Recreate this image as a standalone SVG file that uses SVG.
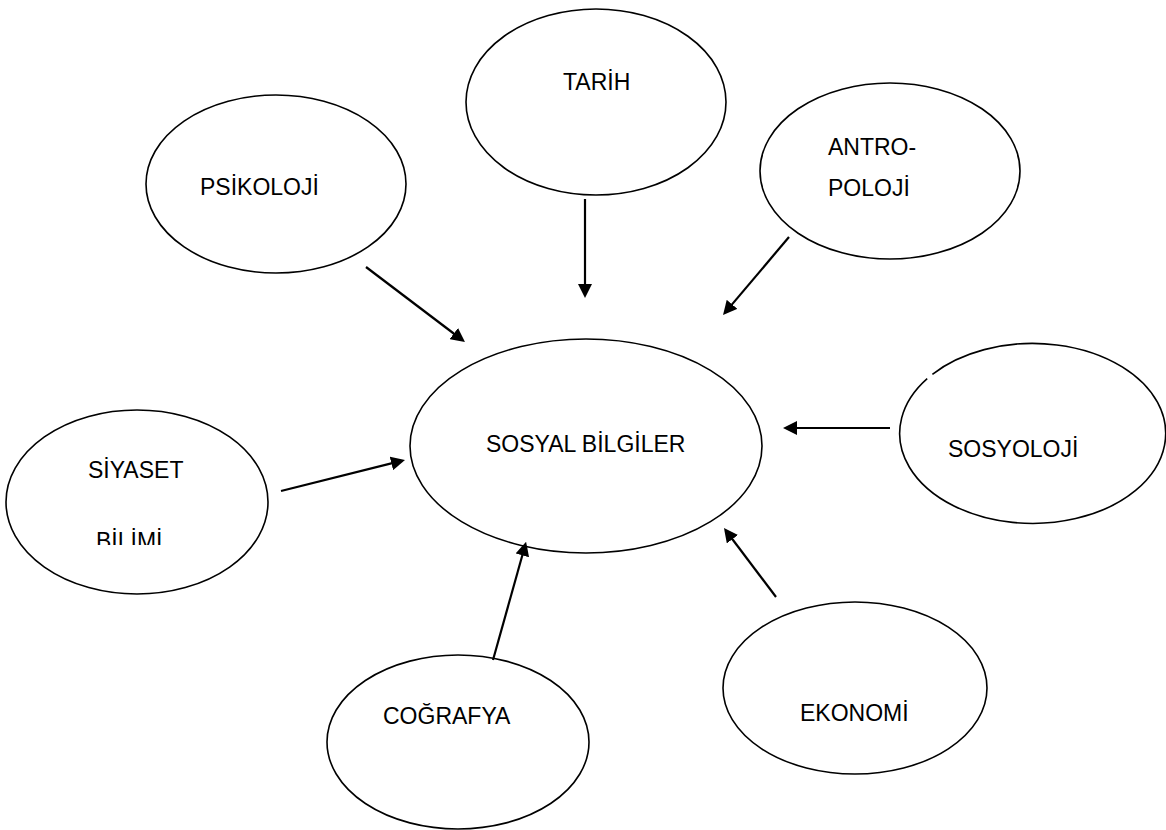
<svg xmlns="http://www.w3.org/2000/svg" width="1166" height="830" viewBox="0 0 1166 830">
<style>
.node{fill:#fff;stroke:#000;stroke-width:1.6}
.lbl{font-family:"Liberation Sans",Arial,sans-serif;font-size:23px;fill:#000}
.edge{stroke:#000;stroke-width:2.2;fill:none;marker-end:url(#ah)}
</style>
<defs>
<marker id="ah" markerUnits="userSpaceOnUse" markerWidth="14" markerHeight="14" refX="4" refY="7" orient="auto">
<path d="M0,0 L14,7 L0,14 z" fill="#000"/>
</marker>
<clipPath id="clipBilimi"><rect x="0" y="500" width="280" height="45"/></clipPath>
</defs>
<rect width="1166" height="830" fill="#fff"/>
<g id="tarih"><ellipse class="node" cx="596" cy="102" rx="130" ry="93"/><text class="lbl" x="563" y="90">TARİH</text></g>
<g id="antropoloji"><ellipse class="node" cx="890" cy="171" rx="130" ry="88"/><text class="lbl" x="828" y="155">ANTRO-</text><text class="lbl" x="828" y="196">POLOJİ</text></g>
<g id="psikoloji"><ellipse class="node" cx="276" cy="184" rx="130" ry="89"/><text class="lbl" x="200" y="195">PSİKOLOJİ</text></g>
<g id="sosyal-bilgiler"><ellipse class="node" cx="586" cy="446" rx="176" ry="107"/><text class="lbl" x="486" y="452">SOSYAL BİLGİLER</text></g>
<g id="siyaset-bilimi"><ellipse class="node" cx="137" cy="502" rx="131" ry="92"/><text class="lbl" x="88" y="478">SİYASET</text><text class="lbl" x="96" y="549" clip-path="url(#clipBilimi)">BİLİMİ</text></g>
<g id="sosyoloji"><path class="node" d="M932.4,374.3 A133 90 0 1 1 927.2,378.6"/><text class="lbl" x="948" y="457">SOSYOLOJİ</text></g>
<g id="cografya"><ellipse class="node" cx="458" cy="742" rx="131" ry="87"/><text class="lbl" x="383" y="724">COĞRAFYA</text></g>
<g id="ekonomi"><ellipse class="node" cx="855" cy="688" rx="132" ry="86"/><text class="lbl" x="800" y="721">EKONOMİ</text></g>
<g id="connectors">
<line class="edge" x1="585" y1="199" x2="585" y2="288"/>
<line class="edge" x1="789" y1="237" x2="729.5" y2="307.4"/>
<line class="edge" x1="366" y1="267" x2="457" y2="336"/>
<line class="edge" x1="890" y1="428" x2="793" y2="428"/>
<line class="edge" x1="281" y1="491" x2="395.3" y2="462.4"/>
<line class="edge" x1="493" y1="660" x2="523.4" y2="551.5"/>
<line class="edge" x1="776" y1="597" x2="730" y2="536"/>
</g>
</svg>
